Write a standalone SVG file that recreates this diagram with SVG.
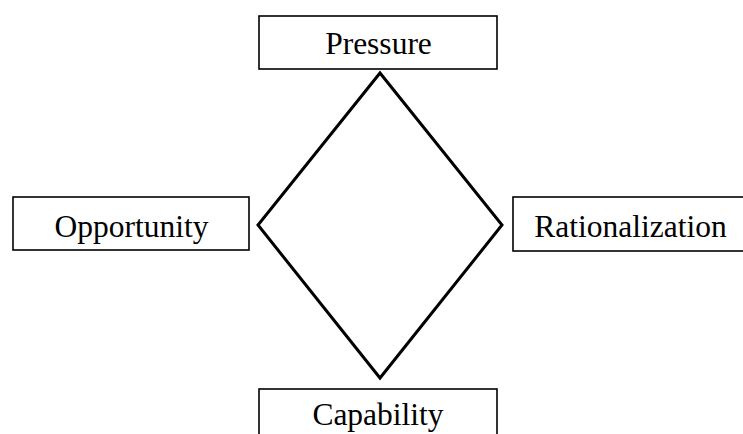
<svg xmlns="http://www.w3.org/2000/svg" width="743" height="434" viewBox="0 0 743 434">
<style>
.box{fill:#fff;stroke:#000;stroke-width:1.6}
.lbl{font-family:"Liberation Serif","Times New Roman",serif;font-size:31.5px;fill:#000;text-anchor:middle}
.edge{fill:none;stroke:#000;stroke-width:3;stroke-linejoin:miter}
</style>
<rect width="743" height="434" fill="#fff"/>
<g id="connectors">
<polygon class="edge" points="380,73 502,225 380,378 258,225"/>
</g>
<g id="pressure">
<rect class="box" x="259" y="16" width="238" height="53"/>
<text class="lbl" x="378.5" y="54">Pressure</text>
</g>
<g id="opportunity">
<rect class="box" x="13" y="197" width="236" height="53"/>
<text class="lbl" x="131.5" y="237">Opportunity</text>
</g>
<g id="rationalization">
<rect class="box" x="513" y="197" width="240" height="54"/>
<text class="lbl" x="630.5" y="237">Rationalization</text>
</g>
<g id="capability">
<rect class="box" x="259" y="389" width="238" height="60"/>
<text class="lbl" x="378" y="425">Capability</text>
</g>
</svg>
